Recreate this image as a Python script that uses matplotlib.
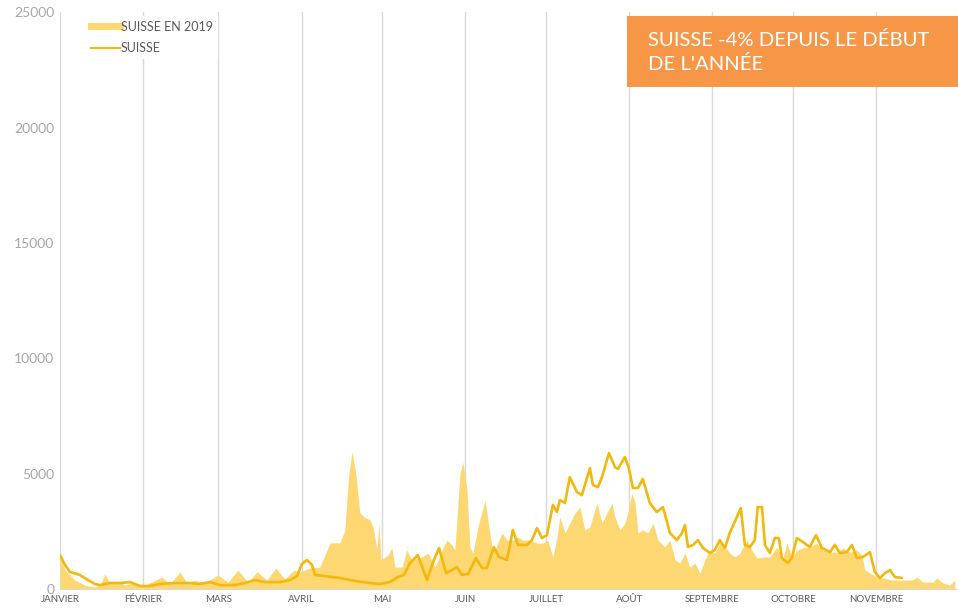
import numpy as np
import matplotlib.pyplot as plt
from matplotlib.lines import Line2D
from matplotlib.patches import Rectangle

# day of year (0 = 1 January) and daily counts
days_2019 = [0, 1.9, 5.6, 9.3, 13.0, 14.9, 16.8, 18.6, 21.6, 24.2, 27.2, 31.7, 38.0, 41.0,
             44.7, 47.3, 50.3, 54.0, 58.8, 62.6, 66.3, 70.0, 73.4, 77.1, 80.4, 83.8, 87.2,
             89.4, 93.1, 96.8, 100.6, 104.3, 106.1, 107.6, 108.8, 110.2, 111.7, 113.6,
             115.5, 116.6, 118.1, 118.8, 119.6, 122.2, 123.6, 124.8, 127.4, 129.2, 131.1,
             134.8, 137.1, 139.7, 142.3, 144.1, 146.0, 147.1, 149.0, 150.1, 151.6, 152.7,
             153.8, 155.7, 158.3, 159.4, 160.9, 162.0, 164.6, 166.5, 168.7, 170.6, 172.4,
             175.0, 177.7, 179.9, 181.7, 183.6, 185.1, 186.2, 188.1, 189.9, 191.8, 193.7,
             195.5, 197.4, 200.0, 201.9, 203.7, 205.6, 206.7, 208.6, 210.4, 211.5, 213.0,
             214.2, 215.3, 217.1, 219.0, 220.9, 222.7, 225.3, 227.2, 229.1, 230.9, 232.8,
             234.6, 236.5, 238.4, 240.2, 242.1, 243.9, 245.8, 247.7, 249.5, 251.4, 253.3,
             255.9, 257.7, 259.6, 261.8, 264.4, 267.0, 269.3, 270.8, 272.6, 274.5, 276.7,
             279.3, 281.9, 284.2, 286.8, 289.4, 291.6, 294.2, 296.8, 298.7, 299.8, 301.7,
             304.3, 306.5, 310.2, 314.0, 317.7, 319.2, 321.4, 325.1, 326.6, 328.9, 331.5,
             333.3]
suisse_2019 = [1390, 820, 390, 170, 90, 170, 650, 220, 350, 170, 260, 170, 520, 220,
               740, 260, 390, 260, 610, 300, 820, 300, 740, 390, 910, 430, 820,
               740, 910, 950, 2000, 2000, 2550, 5000, 5940, 5000, 3300, 3100,
               3000, 2700, 1690, 2860, 1260, 1470, 1780, 950, 950, 1690, 1260,
               1390, 1560, 950, 1690, 2120, 1910, 1690, 5030, 5500, 4290, 1820,
               1560, 2690, 3860, 2990, 1820, 1690, 2430, 2120, 2120, 2250, 2120,
               2120, 1990, 1990, 2120, 1390, 2250, 3120, 2430, 2860, 3290, 3550,
               2560, 2690, 3730, 2860, 3290, 3730, 3120, 2560, 2860, 3290, 4160,
               3730, 2430, 2560, 2430, 2860, 2120, 1820, 2120, 1260, 1130, 1560,
               950, 1130, 690, 1260, 1690, 1560, 1990, 1820, 1560, 1390, 1560,
               2120, 1690, 1340, 1390, 1390, 1820, 1340, 1990, 1390, 1690, 1780,
               1820, 1990, 1690, 1600, 1600, 1780, 1600, 1690, 1470, 820, 690,
               520, 480, 390, 390, 390, 520, 300, 300, 480, 260, 170,
               390]

days_2020 = [0, 1.9, 3.7, 7.4, 10.4, 13.0, 14.9, 18.6, 22.3, 26.1, 29.8, 33.5, 37.2, 42.8,
             48.4, 52.1, 55.9, 59.6, 65.2, 68.9, 72.6, 76.4, 81.9, 85.7, 88.3, 90.1, 92.0,
             93.9, 95.0, 98.7, 104.3, 109.9, 115.5, 119.2, 122.9, 125.9, 128.1, 130.4,
             133.3, 136.7, 139.3, 141.2, 143.8, 146.0, 147.9, 149.7, 152.0, 154.9, 157.2,
             159.0, 161.6, 163.5, 166.5, 168.7, 170.6, 173.9, 175.8, 177.7, 179.5, 181.4,
             183.6, 185.1, 186.2, 188.1, 189.9, 192.6, 194.4, 197.4, 198.5, 200.4, 201.9,
             204.5, 206.7, 207.8, 210.4, 211.9, 213.4, 215.3, 217.1, 219.7, 222.3, 224.6,
             227.2, 229.8, 231.7, 232.8, 233.9, 235.8, 237.6, 239.5, 242.1, 243.9, 245.8,
             247.7, 249.5, 252.1, 253.6, 255.1, 257.0, 258.8, 259.9, 261.5, 262.6, 264.4,
             266.3, 267.8, 268.9, 271.1, 272.6, 274.5, 276.7, 279.3, 281.6, 283.8, 286.8,
             288.6, 290.5, 293.1, 295.0, 296.8, 299.1, 301.7, 303.5, 305.4, 307.3, 309.2,
             311.0, 313.6]
suisse = [1470, 1040, 740, 610, 390, 220, 170, 260, 260, 300, 130, 130, 220, 260,
          260, 220, 300, 170, 170, 260, 390, 300, 300, 390, 560, 1080, 1260,
          1040, 610, 560, 480, 350, 260, 220, 300, 520, 610, 1130,
          1470, 390, 1260, 1780, 690, 820, 950, 610, 650, 1340, 910,
          910, 1820, 1390, 1260, 2560, 1910, 1910, 2120, 2640, 2210, 2340,
          3640, 3340, 3860, 3730, 4850, 4200, 4070, 5240, 4510, 4420, 4850,
          5890, 5290, 5200, 5720, 5240, 4380, 4380, 4770, 3730, 3340, 3550,
          2430, 2120, 2430, 2770, 1820, 1910, 2120, 1780, 1560, 1690, 2120,
          1780, 2430, 3120, 3510, 1910, 1820, 2120, 3550, 3550, 1910, 1560,
          2210, 2210, 1340, 1130, 1340, 2210, 2040, 1820, 2340, 1780, 1600,
          1910, 1560, 1600, 1910, 1340, 1390, 1600, 740, 480, 690, 820,
          520, 480]

month_days = [0, 31, 59, 90, 120, 151, 181, 212, 243, 273, 304]
month_labels = ['JANVIER', 'FÉVRIER', 'MARS', 'AVRIL', 'MAI', 'JUIN', 'JUILLET',
                'AOÛT', 'SEPTEMBRE', 'OCTOBRE', 'NOVEMBRE']
y_ticks = [0, 5000, 10000, 15000, 20000, 25000]

area_color = '#FDD872'
line_color = '#F2B90C'
font = 'Lato'

fig = plt.figure(figsize=(9.58, 6.09), dpi=100)
ax = fig.add_axes([0.0626, 0.0328, 0.936, 0.947])

ax.fill_between(days_2019, suisse_2019, 0, color=area_color, lw=0, zorder=2)
ax.plot(days_2020, suisse, color=line_color, lw=1.9, zorder=3,
        solid_joinstyle='round', solid_capstyle='round')

ax.set_xlim(0, 334)
ax.set_ylim(0, 25000)
ax.set_xticks(month_days)
ax.set_xticklabels(month_labels, fontsize=7, color='#595959', family=font)
ax.set_yticks(y_ticks)
ax.set_yticklabels([str(v) for v in y_ticks], fontsize=10, color='#A6A6A6', family=font)
ax.tick_params(length=0, pad=4)
ax.xaxis.grid(True, color='#D9D9D9', lw=1)
ax.set_axisbelow(True)
for s in ['top', 'right', 'left']:
    ax.spines[s].set_visible(False)
ax.spines['bottom'].set_color('#D9D9D9')

handles = [Line2D([], [], color=area_color, lw=5),
           Line2D([], [], color=line_color, lw=1.5)]
leg = ax.legend(handles, ['SUISSE EN 2019', 'SUISSE'], loc='upper left',
                bbox_to_anchor=(0.022, 1.005), frameon=True, facecolor='white',
                edgecolor='none', framealpha=1, handlelength=2.3, handletextpad=0.1,
                prop={'family': font, 'size': 9}, labelspacing=0.75)
for t in leg.get_texts():
    t.set_color('#595959')

fig.patches.append(Rectangle((0.6545, 0.857), 0.3455, 0.1166, transform=fig.transFigure,
                             facecolor='#F79646', edgecolor='none', zorder=5))
fig.text(0.676, 0.914, "SUISSE -4% DEPUIS LE DÉBUT\nDE L'ANNÉE", color='white',
         fontsize=14.6, family=font, va='center', ha='left', linespacing=1.4, zorder=6)

fig.savefig('out.png', dpi=100)
